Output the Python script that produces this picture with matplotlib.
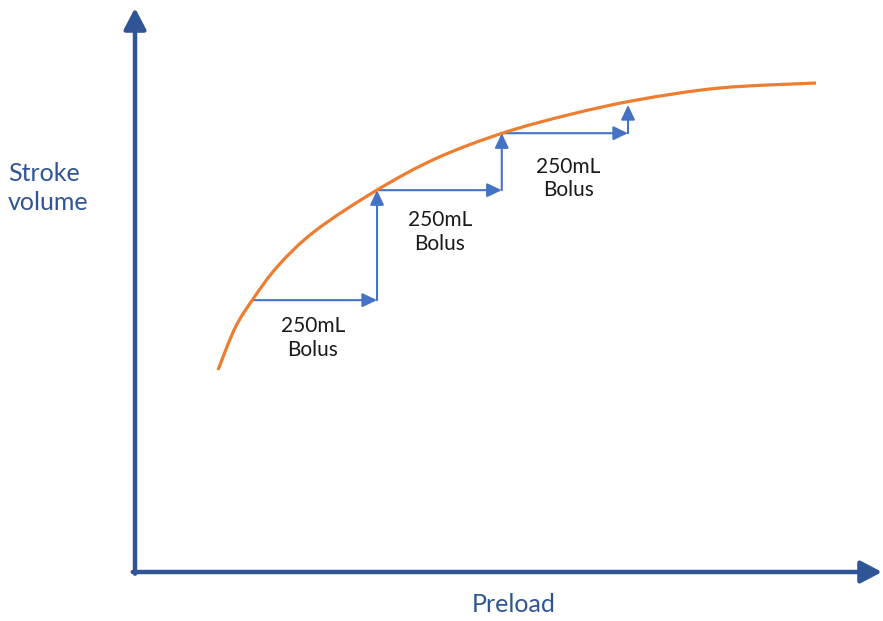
import matplotlib
matplotlib.use("Agg")
from matplotlib import pyplot as plt
from matplotlib.path import Path
from matplotlib.patches import PathPatch

# Frank-Starling curve (arbitrary units, 0-10 on both axes)
preload = [1.111, 1.339, 1.580, 1.914, 2.410, 3.240, 4.043, 4.926, 5.823, 6.720,
           7.831, 9.116]
stroke_volume = [3.582, 4.326, 4.840, 5.426, 6.046, 6.773, 7.340, 7.784, 8.112, 8.369,
                 8.582, 8.670]

# Where each fluid bolus starts / ends on the curve
bolus_preload = [1.57, 3.24, 4.91, 6.60]
bolus_sv = [4.82, 6.77, 7.78, 8.28]
bolus_labels = ["250mL\nBolus", "250mL\nBolus", "250mL\nBolus"]
label_x = [2.38, 4.08, 5.80]
label_y = [4.15, 6.03, 6.97]

x_title = "Preload"
y_title = "Stroke\nvolume"

ORANGE = "#ED7D31"
BLUE = "#4472C4"
NAVY = "#2F5597"

plt.rcParams['font.family'] = ['Lato', 'DejaVu Sans']


def smooth_path(xs, ys):
    # Catmull-Rom through the read points, handed to matplotlib as cubic Beziers
    pts = list(zip(xs, ys))
    verts = [pts[0]]
    codes = [Path.MOVETO]
    for i in range(len(pts) - 1):
        p0 = pts[i - 1] if i > 0 else pts[i]
        p1 = pts[i]
        p2 = pts[i + 1]
        p3 = pts[i + 2] if i + 2 < len(pts) else pts[i + 1]
        c1 = (p1[0] + (p2[0] - p0[0]) / 6, p1[1] + (p2[1] - p0[1]) / 6)
        c2 = (p2[0] - (p3[0] - p1[0]) / 6, p2[1] - (p3[1] - p1[1]) / 6)
        verts += [c1, c2, p2]
        codes += [Path.CURVE4] * 3
    return Path(verts, codes)


fig = plt.figure(figsize=(8.83, 6.21), dpi=100)
ax = fig.add_axes([135 / 883, 49 / 621, 747 / 883, 564 / 621])
ax.set_xlim(0, 10)
ax.set_ylim(0, 10)
for s in ax.spines.values():
    s.set_visible(False)
ax.set_xticks([])
ax.set_yticks([])

# axes drawn as arrows
axis_arrow = dict(arrowstyle="-|>,head_length=0.8,head_width=0.42", color=NAVY,
                  lw=3.2, shrinkA=0, shrinkB=0, mutation_scale=16)
ax.annotate("", xy=(1, 0), xytext=(-0.003, 0), xycoords="axes fraction",
            arrowprops=axis_arrow, annotation_clip=False)
ax.annotate("", xy=(0, 1), xytext=(0, -0.003), xycoords="axes fraction",
            arrowprops=axis_arrow, annotation_clip=False)

ax.add_patch(PathPatch(smooth_path(preload, stroke_volume), facecolor="none",
                       edgecolor=ORANGE, lw=2.3, capstyle="butt", zorder=3))

step_arrow = dict(arrowstyle="-|>,head_length=0.8,head_width=0.38", color=BLUE,
                  lw=1.5, shrinkA=0, shrinkB=0, mutation_scale=11)
for i in range(len(bolus_preload) - 1):
    x0, x1 = bolus_preload[i], bolus_preload[i + 1]
    y0, y1 = bolus_sv[i], bolus_sv[i + 1]
    ax.annotate("", xy=(x1, y0), xytext=(x0, y0), arrowprops=step_arrow, zorder=2)
    ax.annotate("", xy=(x1, y1), xytext=(x1, y0), arrowprops=step_arrow, zorder=2)

for lx, ly, txt in zip(label_x, label_y, bolus_labels):
    ax.text(lx, ly, txt, ha="center", va="center", fontsize=15,
            linespacing=1.2, color="#1a1a1a")

ax.text(-1.70, 6.81, y_title, ha="left", va="center", fontsize=18,
        color=NAVY, linespacing=1.3, clip_on=False)
ax.text(5.07, -0.57, x_title, ha="center", va="center", fontsize=18,
        color=NAVY, clip_on=False)

fig.savefig("out.png", dpi=100)
